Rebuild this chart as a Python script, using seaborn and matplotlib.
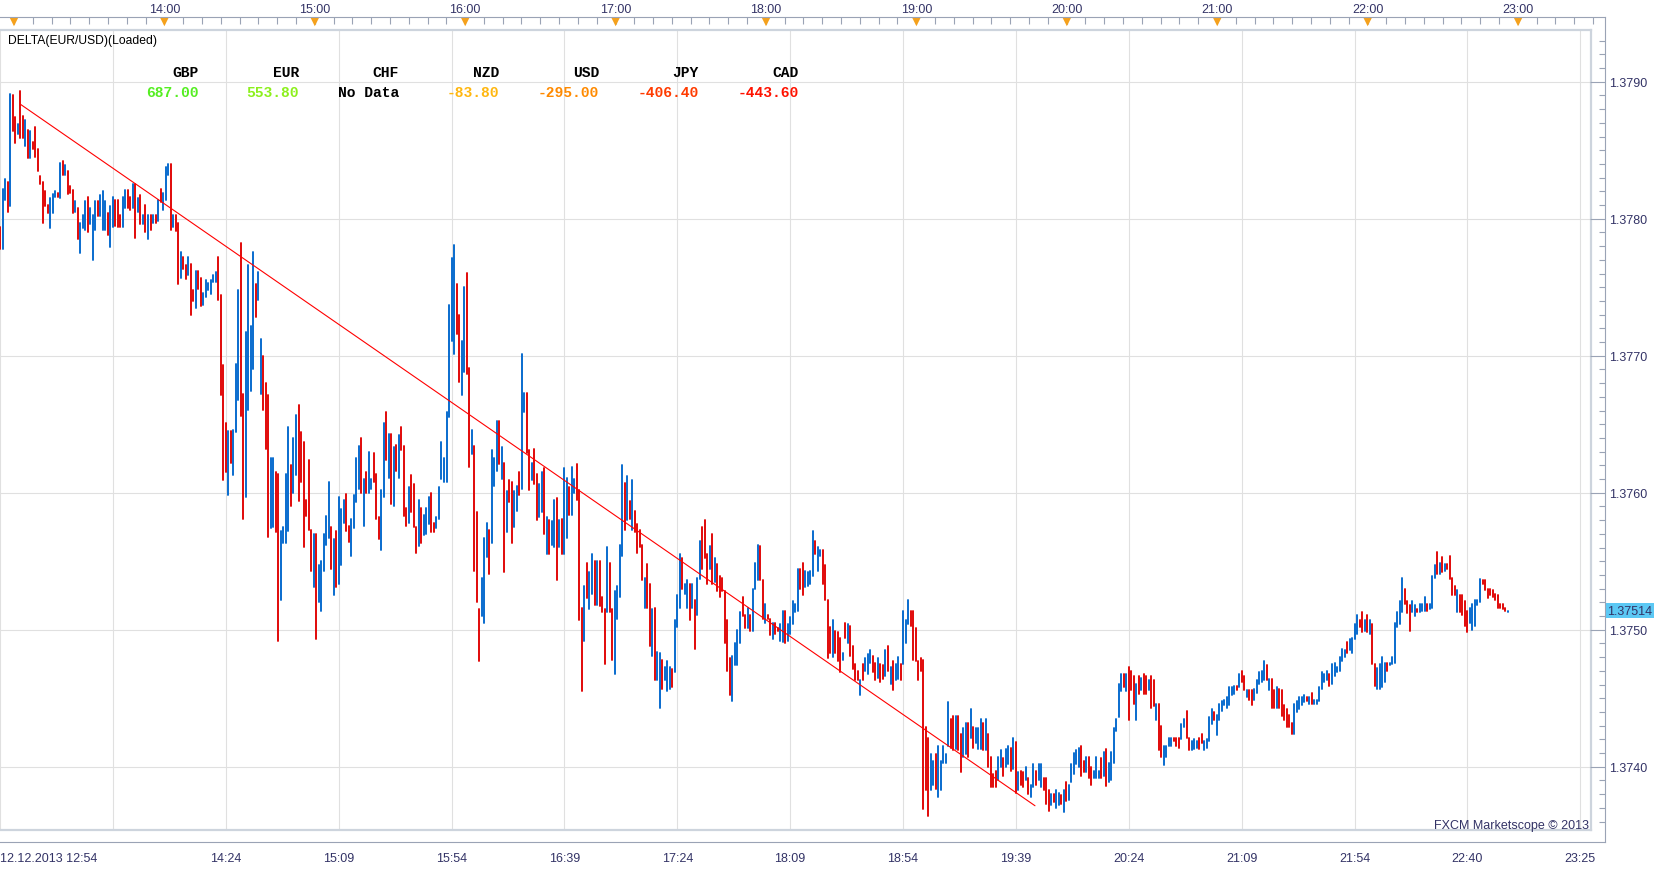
import numpy as np
import pandas as pd
import matplotlib
matplotlib.use("Agg")
import matplotlib.pyplot as plt
from matplotlib.ticker import FixedLocator
import seaborn as sns

## Data: one bar per minute from 12.12.2013 12:54
# prices stored as 1e-5 steps above 1.37000, B = up bar (blue), R = down bar (red)
bar_high = [794, 822, 829, 827, 891, 890, 874, 869, 893, 875, 872, 865, 864, 856, 867, 851, 831, 827, 820, 810,
            815, 818, 820, 819, 841, 842, 839, 835, 824, 821, 813, 808, 797, 803, 813, 816, 808, 803, 813, 813,
            817, 820, 813, 804, 809, 816, 814, 814, 803, 816, 821, 821,
            816, 825, 825, 815, 817, 803, 810, 803, 803, 803, 803, 814, 822, 819, 838, 840, 840, 803, 803, 797,
            776, 772, 766, 772, 767, 748, 762, 762, 757, 746, 755, 753, 755, 759, 761, 772, 744, 693, 651, 645,
            645, 646, 694, 748, 782, 672, 717, 766, 722, 776, 752, 761,
            712, 700, 680, 671, 625, 625, 615, 614, 572, 575, 614, 648, 620, 640, 657, 664, 644, 637, 595, 624,
            573, 570, 570, 547, 550, 570, 583, 608, 575, 566, 572, 597, 588, 595, 599, 576, 581, 598, 625, 634,
            640, 610, 615, 630, 610, 629, 614, 582, 602, 651, 659, 643,
            643, 633, 635, 642, 648, 634, 589, 604, 613, 606, 575, 595, 589, 584, 589, 597, 600, 578, 582, 604,
            637, 625, 659, 737, 771, 781, 752, 730, 711, 750, 760, 691, 646, 634, 586, 515, 538, 567, 578, 573,
            631, 625, 652, 652, 633, 622, 601, 609, 608, 601, 605, 615,
            701, 673, 673, 631, 622, 632, 614, 606, 615, 618, 582, 580, 579, 595, 596, 580, 581, 618, 611, 604,
            619, 610, 621, 602, 516, 532, 549, 542, 555, 550, 550, 550, 524, 515, 560, 549, 515, 528, 532, 562,
            620, 607, 612, 594, 609, 587, 577, 573, 562, 538, 548, 533,
            515, 516, 484, 483, 478, 473, 477, 473, 471, 507, 525, 555, 552, 533, 536, 533, 533, 522, 538, 565,
            575, 580, 555, 561, 570, 552, 548, 539, 538, 528, 507, 479, 481, 490, 500, 513, 524, 511, 516, 511,
            530, 549, 562, 561, 536, 519, 511, 508, 505, 505, 501,
            504, 514, 514, 504, 509, 521, 519, 544, 544, 549, 543, 542, 543, 572, 565, 560, 558, 558, 547,
            522, 502, 507, 499, 498, 494, 483, 505, 504, 503, 488, 475, 470, 463, 475, 479, 482, 485, 481, 476,
            479, 475, 474, 485, 488, 473, 477, 475, 480, 475, 514,
            507, 522, 514, 514, 501, 477, 479, 478, 429, 421, 409, 404, 409, 415, 404, 415, 409, 447, 435, 437,
            437, 437, 424, 428, 432, 432, 442, 429, 428, 428,
            435, 432, 435, 424, 407, 395, 397, 407, 412, 406, 413, 415, 414, 421, 418, 396, 397, 396, 400, 392,
            387, 402, 397, 402, 402, 392, 392, 383, 380, 380,
            383, 381, 379, 383, 389, 387, 402, 410, 412, 414, 415, 404, 407, 407, 400, 397, 407, 397, 406, 411,
            413, 403, 411, 428, 435, 460, 468, 468, 468, 473,
            470, 466, 460, 466, 465, 468, 466, 463, 466, 463, 446, 446, 430, 415, 415, 421, 421, 421, 421, 421,
            431, 435, 441, 421, 419, 420, 419, 421, 424, 419, 420,
            436, 442, 440, 438, 446, 448, 449, 451, 458, 458, 459, 459, 468, 470, 466, 456, 456, 456, 457, 463,
            469, 470, 477, 474, 464, 464, 456, 458, 457, 456,
            445, 442, 438, 432, 446, 448, 451, 451, 452, 451, 451, 454, 449, 449, 458, 469, 468, 470, 468, 475,
            476, 473, 480, 486, 485, 491, 493, 494, 504, 511, 507,
            513, 507, 511, 507, 504, 475, 472, 475, 480, 476, 476, 476, 480, 505, 513, 521, 538, 530, 521, 518,
            521, 518, 515, 519, 519, 524, 519, 519, 539, 547,
            557, 549, 553, 548, 548, 554, 538, 532, 529, 525, 525, 521, 514, 516, 519, 522, 522, 537, 536, 536,
            530, 530, 529, 526, 525, 519, 519, 516, 514]
bar_low = [778, 778, 814, 805, 809, 864, 855, 862, 859, 859, 853, 844, 844, 851, 845, 835, 825, 797, 809, 804,
           793, 804, 816, 816, 815, 832, 832, 818, 819, 804, 805, 785, 775, 793, 792, 790, 796, 770, 792, 802,
           802, 792, 792, 788, 779, 794, 795, 794, 794, 794, 808, 808,
           806, 808, 786, 805, 796, 796, 790, 785, 792, 797, 797, 798, 812, 806, 814, 832, 792, 794, 791, 752,
           757, 763, 756, 759, 730, 740, 735, 749, 736, 737, 743, 748, 745, 754, 754, 741, 671, 609, 615, 598,
           622, 613, 644, 668, 656, 581, 597, 660, 674, 690, 728, 741,
           672, 660, 632, 568, 574, 575, 571, 492, 522, 563, 563, 572, 590, 600, 613, 594, 608, 560, 583, 573,
           543, 531, 493, 520, 514, 543, 562, 567, 544, 525, 531, 533, 547, 578, 572, 564, 554, 574, 593, 603,
           600, 576, 600, 600, 603, 608, 581, 566, 558, 597, 624, 611,
           592, 590, 616, 611, 631, 583, 576, 578, 586, 575, 556, 561, 563, 569, 570, 577, 571, 571, 574, 581,
           610, 608, 608, 655, 711, 701, 716, 681, 671, 688, 687, 619, 628, 543, 520, 477, 510, 505, 553, 541,
           563, 605, 616, 621, 610, 542, 571, 593, 563, 575, 587, 598,
           603, 659, 629, 602, 609, 606, 580, 582, 586, 570, 555, 555, 562, 560, 536, 560, 555, 555, 567, 584,
           584, 600, 595, 507, 455, 492, 523, 515, 526, 518, 518, 517, 513, 475, 513, 513, 478, 468, 508, 524,
           554, 573, 580, 581, 573, 571, 556, 560, 536, 516, 516, 488,
           481, 463, 463, 443, 457, 463, 455, 457, 458, 469, 502, 516, 530, 526, 516, 507, 516, 486, 511, 537,
           544, 552, 533, 544, 533, 535, 528, 524, 528, 490, 470, 452, 448, 474, 474, 490, 510, 501, 501, 499,
           499, 530, 536, 536, 508, 505, 508, 496, 493, 497, 499,
           492, 491, 490, 492, 497, 504, 513, 514, 530, 525, 531, 532, 533, 539, 555, 543, 554, 533, 522,
           479, 483, 480, 483, 477, 469, 478, 494, 490, 481, 471, 463, 463, 452, 463, 470, 468, 476, 469, 463,
           465, 462, 464, 466, 470, 460, 456, 463, 464, 463, 475,
           490, 504, 503, 478, 477, 463, 470, 369, 383, 364, 383, 387, 384, 378, 383, 403, 403, 415, 414, 412,
           413, 412, 396, 407, 409, 407, 421, 414, 417, 413,
           413, 412, 412, 400, 385, 385, 385, 390, 400, 393, 400, 402, 397, 398, 381, 383, 387, 385, 390, 380,
           378, 385, 387, 390, 385, 383, 373, 368, 372, 374,
           370, 372, 373, 367, 375, 376, 389, 395, 402, 400, 393, 396, 396, 392, 387, 392, 392, 392, 392, 393,
           386, 389, 390, 403, 426, 436, 455, 458, 455, 434,
           456, 446, 434, 453, 456, 453, 453, 456, 443, 444, 434, 412, 407, 401, 407, 415, 415, 419, 415, 414,
           420, 429, 421, 412, 412, 413, 414, 413, 417, 412, 414,
           419, 431, 434, 423, 434, 441, 445, 443, 445, 452, 453, 456, 458, 462, 456, 451, 449, 445, 449, 454,
           460, 462, 463, 463, 456, 443, 443, 443, 443, 437,
           434, 429, 429, 424, 424, 440, 442, 445, 447, 448, 446, 446, 446, 446, 448, 457, 462, 463, 459, 460,
           466, 469, 470, 477, 480, 483, 485, 483, 493, 497, 502,
           498, 499, 498, 497, 475, 459, 457, 457, 458, 462, 470, 474, 475, 476, 502, 504, 513, 519, 512, 499,
           513, 510, 513, 513, 514, 514, 514, 515, 516, 538,
           541, 541, 542, 543, 544, 537, 525, 525, 513, 513, 511, 503, 498, 505, 500, 503, 518, 520, 533, 529,
           523, 525, 524, 522, 516, 516, 515, 514, 513]
bar_dir = ("RBBRBRRBRRBRBRRRRRRRBBBRBRBRRRBRBBBRBBBRBBBRBBRRRBBR"
           "RBRBRBRBRBRBRBBBRBRRBRRBRRBRRBBBBBBRRRRBRBBBRRBBBBRB"
           "BRRRBBRRBBBBRBBRRRRRRBRBBBBBRBRBBBRRBBBBRBRBBRRRBBRB"
           "RBRBRRRBRRRBRBBBRRBBBBBBBBRRBBRRBRRRBBBRBBBRBRBRRBBR"
           "BBRRBRRBBRBRBBRBRBBRBBRRRBRBBRBRRRBRRBBBBRBRBRRRRBRR"
           "BRBBRBBBRBBBRBBRBRBBRRRBRBRRRRRRBBBBRRBRBBBRRBRRBRR"
           "BBRBBBBBRRBBBBRBBRR"
           "RRBRRRBRBRRRRBRBBBRRBRRBRBRBBRB"
           "BBRRRRRRRRBBRBBBBBRRBRRBBRBRBB"
           "BRBRRRRBBRBBRBRBRRBRBBRBBRRRBR"
           "BBRBRBBBBBRRBRRBBBRBRBBBBBBRBR"
           "RRBRBRRBRRBRRBBBBRRRBBRRBBBRRBB"
           "BBRBBBBBBBBRBRRBRRBBBBBRBRRBRR"
           "RRRRBBBBBRBRBBBBBBRBBBBBBRBBBBR"
           "RBRBRRBBBBRBBBBBBRRRBBRBBBRBBB"
           "RBRBRRRRBRRRRBBBBBRRRRRRRRRRB")

# red trend line drawn on the chart (bar index, price)
trend_bar = [8, 412.6]
trend_price = [1.378837, 1.373715]

# currency strength table
currencies = ["GBP", "EUR", "CHF", "NZD", "USD", "JPY", "CAD"]
strength = ["687.00", "553.80", "No Data", "-83.80", "-295.00", "-406.40", "-443.60"]
strength_colors = ["#55ee22", "#8cf01c", "#000000", "#ffb70f", "#ff8a00", "#ff3b00", "#ff1200"]

# axes labels
time_labels = ["12.12.2013 12:54", "", "14:24", "15:09", "15:54", "16:39", "17:24", "18:09",
               "18:54", "19:39", "20:24", "21:09", "21:54", "22:40", "23:25"]
hour_labels = ["", "14:00", "15:00", "16:00", "17:00", "18:00", "19:00", "20:00", "21:00", "22:00", "23:00"]
hour_bars = [6.2, 66.1, 126.0, 185.9, 245.8, 305.7, 365.6, 425.5, 485.4, 545.3, 605.2]
last_price = 1.37514

## Style
sns.set_style("white")
plt.rcParams["font.family"] = ["Liberation Sans", "DejaVu Sans"]
TXT = "#333366"
AXC = "#9aa3b5"

W, H = 1663, 870
fig = plt.figure(figsize=(W / 100, H / 100), dpi=100)


def frame(x0, y0, x1, y1):
    return fig.add_axes([x0 / W, 1 - y1 / H, (x1 - x0) / W, (y1 - y0) / H])


def bar_at(px):
    return (px + 1.6) / 2.511


def price_at(py):
    return 1.3790 - (py - 82.7) / 137.0 * 0.001


## Main panel
ax = frame(0, 31, 1591, 831)
n = len(bar_high)
bars = pd.DataFrame({
    "bar": np.repeat(np.arange(n), 2),
    "price": 1.37 + np.column_stack([bar_low, bar_high]).ravel() / 1e5,
    "dir": np.repeat(list(bar_dir), 2),
})
sns.lineplot(data=bars, x="bar", y="price", hue="dir", units="bar", estimator=None,
             palette={"B": "#0066cc", "R": "#e00000"}, linewidth=1.35, legend=False, ax=ax)
sns.lineplot(x=trend_bar, y=trend_price, color="#ff0000", linewidth=0.8, ax=ax)

ax.set_xlim(bar_at(0), bar_at(1591))
ax.set_ylim(price_at(831), price_at(31))
ax.set_xticks(np.arange(0, 631, 45))
ax.set_yticks(np.arange(1.3740, 1.37901, 0.001))
ax.tick_params(length=0, labelbottom=False, labelleft=False)
ax.set_xlabel("")
ax.set_ylabel("")
ax.grid(True, color="#e0e0e0", linewidth=0.8)
ax.set_axisbelow(True)
ax.spines["left"].set_visible(False)
for s in ["top", "right", "bottom"]:
    ax.spines[s].set_color("#cdd4dd")
    ax.spines[s].set_linewidth(1.6)

fig.text(8 / W, 1 - 41 / H, "DELTA(EUR/USD)(Loaded)", fontsize=8.7, color="black", va="center")
fig.text(1589 / W, 1 - 826 / H, "FXCM Marketscope \u00a9 2013", fontsize=9, color=TXT,
         ha="right", va="center")

for i, (cur, val, col) in enumerate(zip(currencies, strength, strength_colors)):
    x = (199 + 100 * i) / W
    fig.text(x, 1 - 73 / H, cur, family="Liberation Mono", weight="bold", fontsize=10.5,
             color="black", ha="right", va="center")
    fig.text(x, 1 - 93 / H, val, family="Liberation Mono", weight="bold", fontsize=10.5,
             color=col, ha="right", va="center")

## Price axis (right)
pax = frame(1591, 18, 1605, 843)
pax.set_ylim(price_at(843), price_at(18))
pax.patch.set_alpha(0)
for s in ["top", "left", "bottom"]:
    pax.spines[s].set_visible(False)
pax.spines["right"].set_color(AXC)
pax.set_xticks([])
pax.yaxis.tick_right()
major_p = np.arange(1.3740, 1.37901, 0.001)
pax.set_yticks(major_p)
pax.set_yticklabels([f"{v:.4f}" for v in major_p])
pax.yaxis.set_minor_locator(FixedLocator(np.arange(1.3736, 1.37935, 0.0001)))
pax.tick_params(axis="y", which="both", direction="in", color=AXC, labelcolor=TXT,
                labelsize=9, pad=3, width=0.8)
pax.tick_params(axis="y", which="major", length=10.5)
pax.tick_params(axis="y", which="minor", length=4.5)
y_last = 1 - (82.7 + (1.3790 - last_price) / 0.001 * 137.0) / H
fig.text(1607.5 / W, y_last, f"{last_price:.5f}", fontsize=9, color=TXT, va="center",
         bbox=dict(boxstyle="square,pad=0.12", fc="#5cc8f4", ec="none"))

## Time axis (bottom)
tax = frame(0, 831, 1605, 843)
tax.set_xlim(bar_at(0), bar_at(1605))
tax.patch.set_alpha(0)
for s in ["top", "left", "right"]:
    tax.spines[s].set_visible(False)
tax.spines["bottom"].set_color(AXC)
tax.set_yticks([])
tax.set_xticks(np.arange(0, 631, 45))
tax.set_xticklabels(time_labels)
tax.get_xticklabels()[0].set_ha("left")
tax.xaxis.set_minor_locator(FixedLocator(np.arange(0, 636, 5.625)))
tax.tick_params(axis="x", which="both", direction="in", color=AXC, labelcolor=TXT,
                labelsize=9, pad=7, width=0.8)
tax.tick_params(axis="x", which="major", length=8.6)
tax.tick_params(axis="x", which="minor", length=3.6)

## Hour axis (top)
hax = frame(0, 18, 1605, 31)
hax.set_xlim(bar_at(0), bar_at(1605))
hax.set_ylim(0, 1)
hax.patch.set_alpha(0)
for s in ["bottom", "left", "right"]:
    hax.spines[s].set_visible(False)
hax.spines["top"].set_color(AXC)
hax.set_yticks([])
hax.xaxis.tick_top()
hax.set_xticks(hour_bars)
hax.set_xticklabels(hour_labels)
hax.xaxis.set_minor_locator(FixedLocator(np.arange(-1.3, 640, 7.4865)))
hax.tick_params(axis="x", which="both", direction="in", color=AXC, labelcolor=TXT,
                labelsize=9, pad=1.6, width=0.8, length=5)
sns.scatterplot(x=hour_bars, y=[0.66] * len(hour_bars), marker="v", s=48, color="#f5a11c",
                edgecolor="none", ax=hax, legend=False)
hax.set_xlabel("")
hax.set_ylabel("")

fig.savefig("out.png", dpi=100)
